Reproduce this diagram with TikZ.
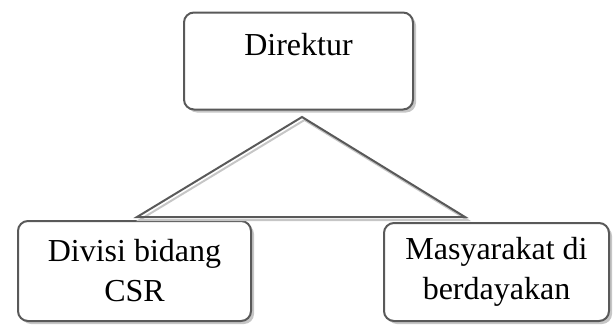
\documentclass[tikz,border=0pt]{standalone}
\usepackage{fontspec}
\setmainfont{Liberation Serif}
\usetikzlibrary{shadows}

\tikzset{
  kotak/.style={draw=gray!70!black, line width=2pt, rounded corners=10pt, fill=white,
    general shadow={fill=gray!45, shadow xshift=3pt, shadow yshift=-3pt},
    font=\fontsize{32}{40}\selectfont, align=center, inner sep=0pt},
  garis/.style={draw=gray!70!black, line width=2pt},
  bayang/.style={draw=gray!45, line width=2pt, transform canvas={xshift=2.5pt, yshift=-3pt}}
}

\begin{document}
\begin{tikzpicture}[x=1pt, y=-1pt]
  \useasboundingbox (0,0) rectangle (613,324);

  \node[kotak, minimum width=229pt, text height=22pt, text depth=33pt, inner ysep=21pt]
    (direktur) at (298.5,61) {Direktur};
  \node[kotak, minimum width=233pt, minimum height=100pt] (divisi) at (134.5,271) {Divisi bidang\\CSR};
  \node[kotak, minimum width=225pt, minimum height=98pt] (masyarakat) at (496.5,272) {Masyarakat di\\berdayakan};

  \coordinate (puncak) at (302,117);
  \coordinate (kiri) at (137,217);
  \coordinate (kanan) at (465,217);

  % segitiga penghubung
  \draw[bayang] (puncak) -- (kiri) -- (kanan) -- cycle;
  \draw[garis] (puncak) -- (kiri) -- (kanan) -- cycle;
\end{tikzpicture}
\end{document}
